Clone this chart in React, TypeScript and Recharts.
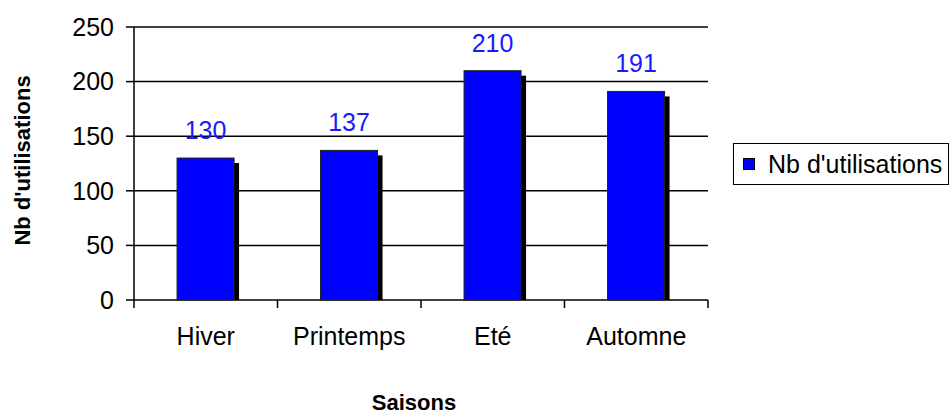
import { Bar, BarChart, CartesianGrid, LabelList, Legend, XAxis, YAxis } from "recharts";

const seasons = ["Hiver", "Printemps", "Eté", "Automne"];
const usages = [130, 137, 210, 191];
const yTicks = [0, 50, 100, 150, 200, 250];

const data = seasons.map((season, i) => ({ season, value: usages[i] }));

const FONT = "Arial, 'Liberation Sans', sans-serif";
const TICK_MARGIN = 27;

// bar with a black drop shadow to the right, like the old Excel 3D look
function ShadowBar(props: any) {
    const { x, y, width, height } = props;
    if (!height || height <= 0) return null;
    return (
        <g>
            <rect x={x + 5} y={y + 5} width={width} height={height - 5} fill="#000" />
            <rect x={x} y={y} width={width} height={height} fill="#0000ff" stroke="#222" strokeWidth={1} />
        </g>
    );
}

function ValueLabel(props: any) {
    const { x, y, width, value } = props;
    return (
        <text
            x={x + width / 2}
            y={y - 19}
            textAnchor="middle"
            fill="#1a1aff"
            fontSize={25}
            fontFamily={FONT}
        >
            {value}
        </text>
    );
}

// category label at the band centre, tick marks on the band edges
function SeasonTick(props: any) {
    const { x, y, payload, index, visibleTicksCount } = props;
    const half = payload.offset || 0;
    const axisY = y - TICK_MARGIN;
    const last = index === visibleTicksCount - 1;
    return (
        <g>
            <line x1={x - half} y1={axisY} x2={x - half} y2={axisY + 8} stroke="#000" strokeWidth={1.5} />
            {last && (
                <line x1={x + half} y1={axisY} x2={x + half} y2={axisY + 8} stroke="#000" strokeWidth={1.5} />
            )}
            <text x={x} y={y} dy="0.71em" textAnchor="middle" fill="#000" fontSize={25} fontFamily={FONT}>
                {payload.value}
            </text>
        </g>
    );
}

function YTitle(props: any) {
    const { viewBox } = props;
    const cx = viewBox.x + 22;
    const cy = viewBox.y + viewBox.height / 2 - 3;
    return (
        <text
            x={cx}
            y={cy}
            transform={`rotate(-90, ${cx}, ${cy})`}
            textAnchor="middle"
            dominantBaseline="central"
            fontSize={22}
            fontWeight="bold"
            fontFamily={FONT}
            fill="#000"
        >
            Nb d'utilisations
        </text>
    );
}

function XTitle(props: any) {
    const { viewBox } = props;
    return (
        <text
            x={viewBox.x + viewBox.width / 2 - 7}
            y={viewBox.y + viewBox.height - 7}
            textAnchor="middle"
            fontSize={22}
            fontWeight="bold"
            fontFamily={FONT}
            fill="#000"
        >
            Saisons
        </text>
    );
}

function LegendBox() {
    return (
        <div
            style={{
                border: "1px solid #000",
                height: 42,
                display: "flex",
                alignItems: "center",
                paddingLeft: 9,
                fontFamily: FONT,
                fontSize: 25,
                color: "#000",
                whiteSpace: "nowrap",
                boxSizing: "border-box",
            }}
        >
            <span
                style={{
                    display: "inline-block",
                    width: 10,
                    height: 10,
                    background: "#0000ff",
                    border: "1px solid #000",
                    marginRight: 13,
                }}
            />
            Nb d'utilisations
        </div>
    );
}

export default function App() {
    return (
        <div style={{ position: "absolute", left: 0, top: 0, background: "#fff" }}>
            <BarChart
                width={949}
                height={417}
                data={data}
                margin={{ top: 27, right: 241, bottom: 0, left: 0 }}
                barCategoryGap="30%"
            >
                <CartesianGrid vertical={false} stroke="#000" strokeWidth={1.5} />

                <YAxis
                    width={134}
                    domain={[0, 250]}
                    ticks={yTicks}
                    interval={0}
                    tickSize={8}
                    tickMargin={12}
                    stroke="#000"
                    strokeWidth={1.5}
                    tick={{ fill: "#000", fontSize: 25, fontFamily: FONT }}
                    label={{ content: YTitle }}
                />

                <XAxis
                    dataKey="season"
                    height={117}
                    tickLine={false}
                    axisLine={false}
                    tickSize={0}
                    tickMargin={TICK_MARGIN}
                    interval={0}
                    tick={SeasonTick}
                    label={{ content: XTitle }}
                />

                <Legend
                    layout="horizontal"
                    align="center"
                    verticalAlign="middle"
                    content={LegendBox}
                    wrapperStyle={{ left: 733, top: 143, width: 216 }}
                />

                <Bar
                    dataKey="value"
                    name="Nb d'utilisations"
                    shape={ShadowBar}
                    isAnimationActive={false}
                >
                    <LabelList dataKey="value" content={ValueLabel} />
                </Bar>
            </BarChart>
        </div>
    );
}
